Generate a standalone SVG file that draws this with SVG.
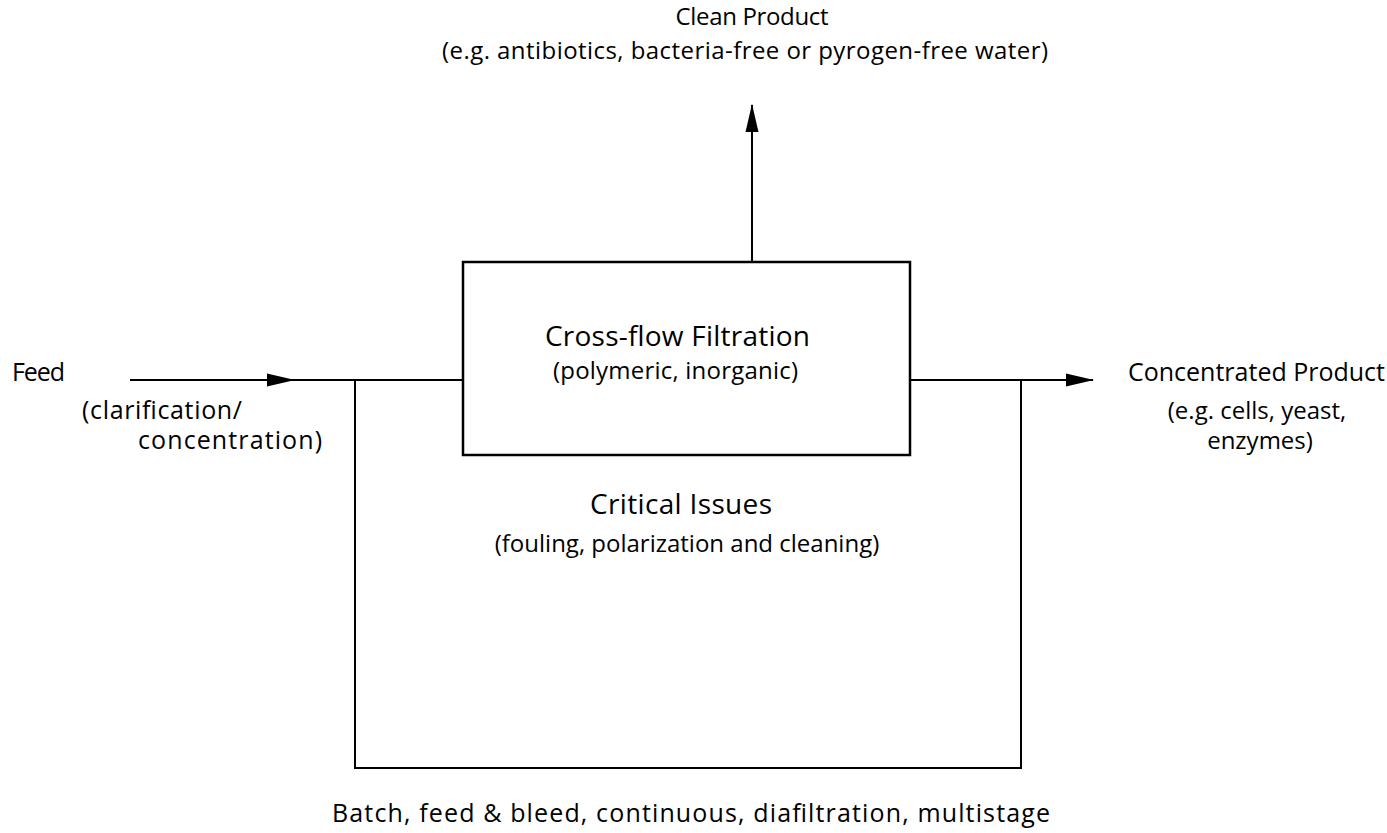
<svg xmlns="http://www.w3.org/2000/svg" width="1387" height="833" viewBox="0 0 1387 833">
<style>
text{font-family:"Open Sans",Lato,"Liberation Sans",sans-serif;fill:#000;font-size:24px}
.big{font-size:28px}
.lg{font-size:25px}
.ln{stroke:#000;stroke-width:2;fill:none}
</style>
<defs>
<marker id="ah" markerWidth="28" markerHeight="14" refX="27" refY="7" orient="auto" markerUnits="userSpaceOnUse">
<path d="M0,0.5 L28,7 L0,13.5 Z" fill="#000"/>
</marker>
</defs>
<rect width="1387" height="833" fill="#fff"/>
<g id="connectors">
<line class="ln" x1="130" y1="380" x2="294" y2="380" marker-end="url(#ah)"/>
<line class="ln" x1="290" y1="380" x2="463" y2="380"/>
<line class="ln" x1="910" y1="380" x2="1093" y2="380" marker-end="url(#ah)"/>
<line class="ln" x1="752" y1="262" x2="752" y2="105" stroke-width="2.5" marker-end="url(#ah)"/>
<polyline class="ln" points="355,380 355,768 1021,768 1021,380"/>
</g>
<g id="filtration">
<rect x="463" y="262" width="447" height="193" fill="#fff" stroke="#000" stroke-width="2.5"/>
<text class="big" x="677.5" y="346" text-anchor="middle" textLength="265">Cross-flow Filtration</text>
<text x="675.5" y="379" text-anchor="middle" textLength="245">(polymeric, inorganic)</text>
</g>
<g id="clean">
<text x="752" y="25" text-anchor="middle" textLength="153">Clean Product</text>
<text x="745" y="59" text-anchor="middle" textLength="606">(e.g. antibiotics, bacteria-free or pyrogen-free water)</text>
</g>
<g id="feed">
<text class="lg" x="12" y="381" textLength="53">Feed</text>
<text class="lg" x="82" y="419" textLength="160">(clarification/</text>
<text class="lg" x="138" y="449" textLength="184">concentration)</text>
</g>
<g id="concentrated">
<text class="lg" x="1128" y="381" textLength="257">Concentrated Product</text>
<text x="1257" y="419" text-anchor="middle">(e.g. cells, yeast,</text>
<text x="1260" y="449" text-anchor="middle">enzymes)</text>
</g>
<g id="issues">
<text class="big" x="590" y="514" textLength="182">Critical Issues</text>
<text x="687" y="552" text-anchor="middle">(fouling, polarization and cleaning)</text>
</g>
<g id="modes">
<text class="lg" x="332" y="822" textLength="718">Batch, feed &amp; bleed, continuous, diafiltration, multistage</text>
</g>
</svg>
